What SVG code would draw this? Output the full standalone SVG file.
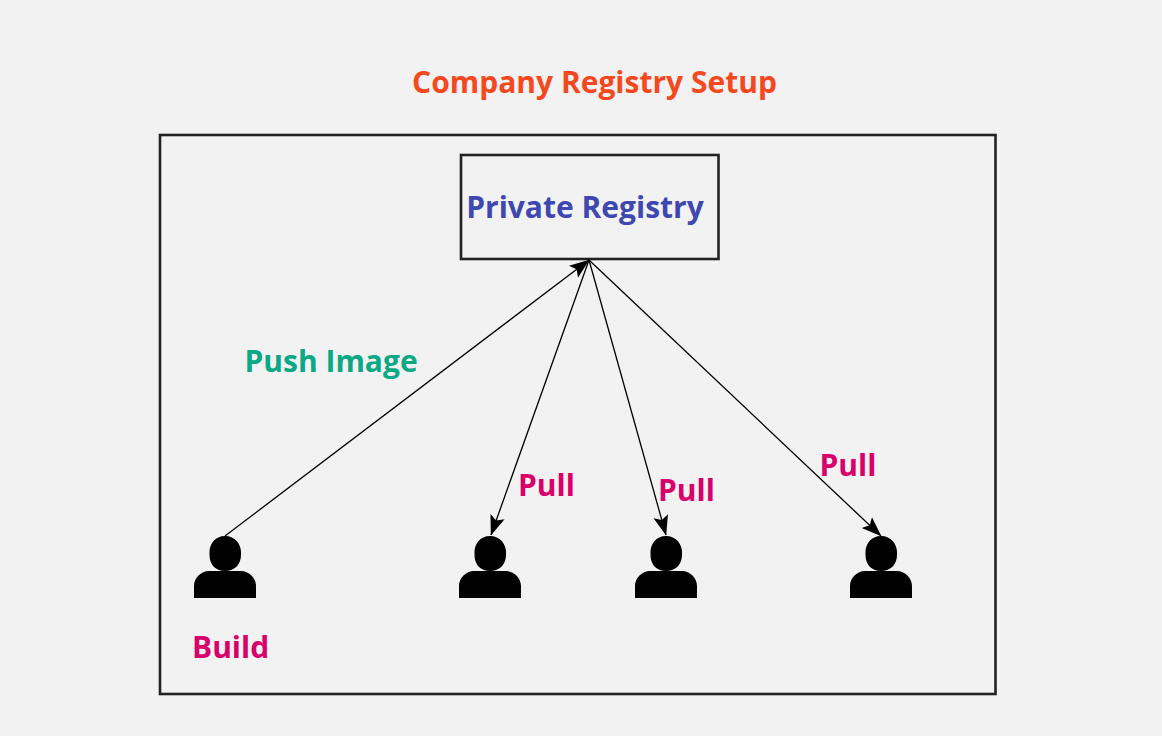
<svg xmlns="http://www.w3.org/2000/svg" width="1162" height="736" viewBox="0 0 1162 736">
<style>
text{font-family:"Open Sans","Noto Sans",sans-serif;font-weight:700}
.t{fill:#f4491f;font-size:30px}
.b{fill:#3f48b0;font-size:30px}
.g{fill:#0aa884;font-size:30px}
.p{fill:#d9006c;font-size:30px}
.box{fill:none;stroke:#222;stroke-width:2.6}
.c{fill:none;stroke:#000;stroke-width:1.3}
</style>
<defs>
<marker id="a" viewBox="0 0 20 16" refX="19.5" refY="8" markerWidth="20" markerHeight="16" markerUnits="userSpaceOnUse" orient="auto"><path d="M0 0.500L20 8L0 15.500L4 8Z" fill="#000"/></marker>
<symbol id="person" overflow="visible"><path d="M0 62V50C0 42 7 35 15 35H47C55 35 62 42 62 50V62ZM31 0C41 0 47 8 47 16V19C47 28 41 35 31 35C21 35 15.500 28 15.500 19V16C15.500 8 21 0 31 0Z" fill="#000"/></symbol>
</defs>
<rect width="1162" height="736" fill="#f2f2f2"/>
<text id="title" class="t" x="594.500" y="93" text-anchor="middle">Company Registry Setup</text>
<g id="boundary"><rect class="box" x="160" y="135" width="835.500" height="559"/></g>
<g id="registry"><rect class="box" x="461" y="155" width="257.500" height="104"/><text class="b" x="585" y="218" text-anchor="middle">Private Registry</text></g>
<g id="connectors">
<path class="c" d="M225 536L589 260" marker-end="url(#a)"/>
<path class="c" d="M589 260L491 535" marker-end="url(#a)"/>
<path class="c" d="M589 260L666 535" marker-end="url(#a)"/>
<path class="c" d="M589 260L881 536" marker-end="url(#a)"/>
</g>
<g id="user1"><use href="#person" x="194" y="536"/></g>
<g id="user2"><use href="#person" x="459" y="536"/></g>
<g id="user3"><use href="#person" x="635" y="536"/></g>
<g id="user4"><use href="#person" x="850" y="536"/></g>
<text class="g" x="244.500" y="371.500">Push Image</text>
<text class="p" x="518" y="495.500">Pull</text>
<text class="p" x="658" y="501">Pull</text>
<text class="p" x="819.500" y="475.500">Pull</text>
<text class="p" x="192" y="658">Build</text>
</svg>
